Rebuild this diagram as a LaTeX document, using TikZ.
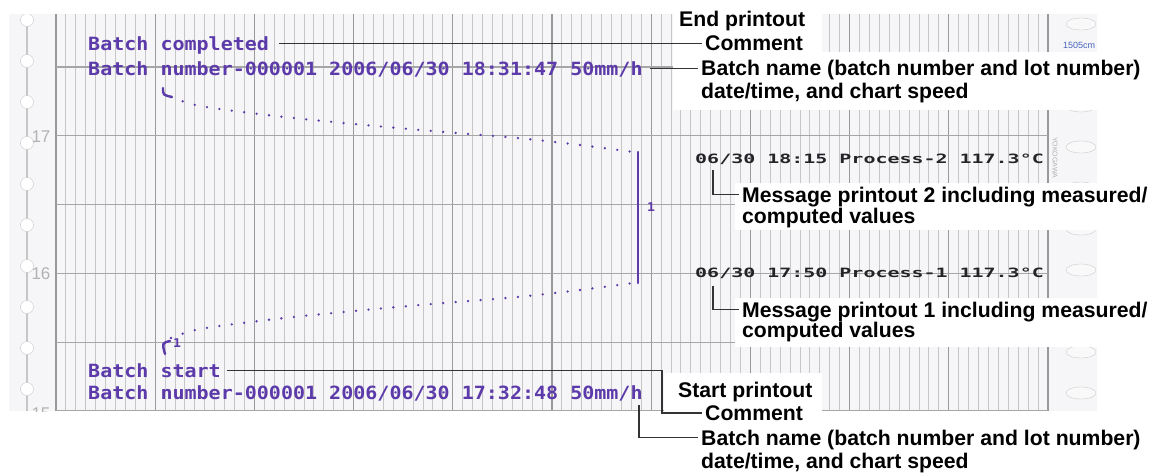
\documentclass[tikz,border=0pt]{standalone}
\usepackage{fontspec}
\setmainfont{Liberation Sans}
\newfontfamily\chartfont[FakeStretch=1.10]{DejaVu Sans Mono}
\newfontfamily\msgfont[FakeStretch=1.56]{DejaVu Sans Mono}
\usepackage{xcolor}
\usepackage{tikz}
\usetikzlibrary{positioning}

\definecolor{inkpurple}{RGB}{92,58,170}
\definecolor{inkblack}{RGB}{35,35,40}
\definecolor{inkblue}{RGB}{70,100,190}
\definecolor{paper}{RGB}{246,246,248}

\tikzset{
  chartprint/.style={anchor=base west, inner sep=0pt, text=inkpurple, font=\chartfont\bfseries\fontsize{18.2}{20}\selectfont, text height=13.3pt, text depth=0pt},
  msgprint/.style={anchor=base west, inner sep=0pt, text=inkblack, font=\msgfont\bfseries\fontsize{12.8}{14}\selectfont, text height=9pt, text depth=0pt},
  callout/.style={anchor=base west, inner xsep=3pt, inner ysep=0pt, font=\bfseries\fontsize{21.2}{24}\selectfont, text height=15.2pt, text depth=0pt},
  leader/.style={draw=black!80, line width=1.5pt},
  patch/.style={fill=white},
  minorline/.style={draw=gray!45, line width=1pt},
  majorline/.style={draw=gray!80, line width=1.2pt},
  hline/.style={draw=gray!70, line width=1.2pt},
  trend/.style={draw=inkpurple, line width=2.6pt, line cap=round, dash pattern=on 0pt off 12.5pt},
  pen/.style={draw=inkpurple, line width=2.4pt, line cap=round},
  penmark/.style={text=inkpurple, inner sep=0pt, font=\chartfont\bfseries\fontsize{12}{12}\selectfont},
  scalelbl/.style={text=gray!60, inner sep=0pt, font=\fontsize{17}{17}\selectfont}
}

\begin{document}
\begin{tikzpicture}[x=1pt,y=-1pt]

    \useasboundingbox (0,0) rectangle (1156,474);

    \fill[paper] (9,14) rectangle (1097,411);

    \begin{scope}
    \clip (9,14) rectangle (1097,411);

    \foreach \i in {1,...,99} {
        \pgfmathsetmacro\gx{56+9.92*\i}
        \draw[minorline] (\gx,14) -- (\gx,411);
    }
    \foreach \i in {0,...,10} {
        \pgfmathsetmacro\gx{56+99.2*\i}
        \draw[majorline] (\gx,14) -- (\gx,411);
    }
    \foreach \gy in {67,135.8,204.6,273.4,342.2,410.4} {
        \draw[hline] (56,\gy) -- (1048,\gy);
    }

    \draw[gray!45, line width=1.2pt] (27,14) -- (27,411);
    \foreach \k in {0,...,9} {
        \draw[gray!45, fill=white] (27,{20+41*\k}) circle[radius=6.5pt];
        \draw[gray!40, fill=gray!5] (1081,{24+41*\k}) ellipse[x radius=15pt, y radius=6pt];
    }

    \node[scalelbl] (tick17) at (41,137) {17};
    \node[scalelbl] (tick16) at (41,274) {16};
    \node[scalelbl] (tick15) at (41,414) {15};

    \node[text=inkblue, inner sep=0pt, font=\fontsize{9}{10}\selectfont] (chartlen) at (1079,45) {1505cm};
    \node[rotate=-90, anchor=west, inner sep=0pt, text=gray!60, font=\fontsize{7}{8}\selectfont] (maker) at (1055,137) {YOKOGAWA};
    \end{scope}

    \draw[trend] plot[smooth] coordinates {(171,97) (200,106) (267,115) (333,122) (420,130) (517,138) (580,145) (633,152)};
    \draw[trend] plot[smooth] coordinates {(171,338) (200,329) (267,320) (333,313) (420,305) (517,297) (580,290) (633,283)};
    \draw[pen] (638,152) -- (638,283);
    \draw[pen] (163,88) .. controls (163,95) .. (172,97);
    \draw[pen] (170,341) .. controls (162,343) .. (165,354);
    \node[penmark] (barmark) at (651,207) {1};
    \node[penmark] (startmark) at (177,343) {1};

    \node[chartprint] (endcmt) at (88,50) {Batch completed};
    \node[chartprint] (endbat) at (88,75) {Batch number-000001 2006/06/30 18:31:47 50mm/h};
    \node[chartprint] (startcmt) at (88,377) {Batch start};
    \node[chartprint] (startbat) at (88,399) {Batch number-000001 2006/06/30 17:32:48 50mm/h};

    \node[msgprint] (msgtwo) at (695,163) {06/30 18:15 Process-2 117.3°C};
    \node[msgprint] (msgone) at (695,277) {06/30 17:50 Process-1 117.3°C};

    \fill[patch] (673,0) rectangle (822,52);
    \fill[patch] (673,52) rectangle (1156,110);
    \fill[patch] (735,183) rectangle (1156,230);
    \fill[patch] (735,298) rectangle (1156,347);
    \fill[patch] (664,373) rectangle (822,474);

    \node[callout] (endlbl) at (676,26.5) {End printout};
    \node[callout] (endcmtlbl) at (702,50) {Comment};
    \node[callout] (endbatlbl) at (698,75.5) {Batch name (batch number and lot number)};
    \node[callout] (endbatsub) at (698,98.5) {date/time, and chart speed};

    \node[callout] (msgtwolbl) at (739,202) {Message printout 2 including measured/};
    \node[callout] (msgtwosub) at (739,223) {computed values};
    \node[callout] (msgonelbl) at (739,317) {Message printout 1 including measured/};
    \node[callout] (msgonesub) at (739,337.5) {computed values};

    \node[callout] (startlbl) at (675,397) {Start printout};
    \node[callout] (startcmtlbl) at (702,420.5) {Comment};
    \node[callout] (startbatlbl) at (698,445) {Batch name (batch number and lot number)};
    \node[callout] (startbatsub) at (698,468.5) {date/time, and chart speed};

    \draw[leader] ([xshift=10pt]endcmt.east) -- (endcmt.east -| endcmtlbl.west);
    \draw[leader] ([xshift=7pt]endbat.east) -- (endbat.east -| endbatlbl.west);
    \draw[leader] ([xshift=18pt,yshift=-7pt]msgtwo.base west) |- (msgtwolbl.west);
    \draw[leader] ([xshift=18pt,yshift=-9pt]msgone.base west) |- (msgonelbl.west);
    \draw[leader] ([xshift=6pt]startcmt.east) -| ([xshift=-40pt]startcmtlbl.west) -- (startcmtlbl.west);
    \draw[leader] ([xshift=-4pt,yshift=-6pt]startbat.south east) |- (startbatlbl.west);

\end{tikzpicture}
\end{document}
